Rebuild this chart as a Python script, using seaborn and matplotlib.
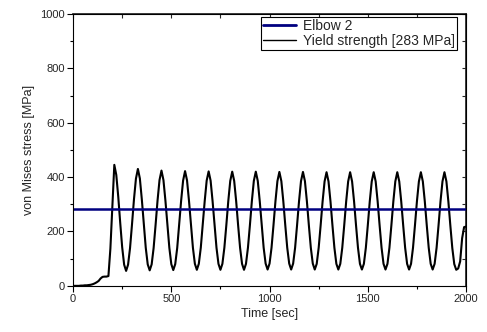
import numpy as np
import pandas as pd
import seaborn as sns
import matplotlib
matplotlib.use("Agg")
import matplotlib.pyplot as plt
from matplotlib.ticker import MultipleLocator

# Sampling times of the stress history [sec]
time_s = np.arange(0, 2001, 10)

# von Mises stress at each sampling time [MPa]
stress_mpa = [
    0, 0, 0, 0, 1, 1, 2, 2, 3, 4,
    6, 9, 13, 18, 27, 33, 34, 34, 36, 137,
    292, 445, 408, 328, 232, 142, 78, 55, 78, 139,
    226, 318, 394, 430, 395, 318, 227, 140, 79, 57,
    79, 139, 224, 314, 389, 424, 389, 314, 225, 140,
    80, 58, 80, 139, 224, 313, 387, 422, 388, 313,
    224, 140, 81, 59, 81, 140, 224, 312, 387, 421,
    387, 312, 224, 140, 81, 59, 81, 140, 223, 312,
    386, 420, 386, 312, 223, 140, 81, 59, 81, 140,
    223, 312, 386, 420, 386, 312, 224, 140, 82, 60,
    82, 140, 223, 311, 385, 419, 385, 311, 223, 140,
    82, 60, 82, 140, 223, 311, 385, 419, 385, 311,
    223, 140, 82, 60, 81, 140, 223, 311, 384, 418,
    384, 311, 223, 140, 81, 60, 81, 140, 223, 311,
    384, 418, 384, 311, 223, 140, 81, 60, 81, 140,
    223, 311, 384, 418, 384, 311, 223, 140, 81, 60,
    81, 140, 223, 311, 384, 418, 384, 311, 223, 140,
    81, 60, 81, 140, 223, 311, 384, 418, 384, 311,
    223, 140, 81, 60, 81, 140, 223, 311, 384, 418,
    384, 310, 222, 139, 80, 59, 64, 90, 175, 216,
    218,
]

yield_strength = 283  # MPa

series_labels = ["Elbow 2", "Yield strength [283 MPa]"]

df = pd.DataFrame({"Time": time_s, "Stress": stress_mpa})

sns.set_theme(style="ticks")
plt.rcParams["font.family"] = ["Liberation Sans", "DejaVu Sans"]

fig = plt.figure(figsize=(4.87, 3.32), dpi=100)
ax = fig.add_axes([0.150, 0.139, 0.807, 0.819])

sns.lineplot(data=df, x="Time", y="Stress", ax=ax, color="black",
             linewidth=1.5, estimator=None, sort=False)
ax.axhline(yield_strength, color="#000080", linewidth=1.8)

ax.set_xlim(0, 2000)
ax.set_ylim(0, 1000)
ax.xaxis.set_major_locator(MultipleLocator(500))
ax.xaxis.set_minor_locator(MultipleLocator(250))
ax.yaxis.set_major_locator(MultipleLocator(200))
ax.yaxis.set_minor_locator(MultipleLocator(100))

for side in ["top", "right", "left", "bottom"]:
    ax.spines[side].set_visible(True)
    ax.spines[side].set_color("black")
    ax.spines[side].set_linewidth(0.8)

ax.tick_params(axis="both", which="major", labelsize=8, length=4,
               width=0.8, color="black", direction="out", pad=2)
ax.tick_params(axis="both", which="minor", length=2, width=0.8,
               color="black", direction="out")
ax.tick_params(axis="x", which="both", top=False)
ax.tick_params(axis="y", which="both", right=False)

# Mirror ticks on top and right point inward
sec_x = ax.secondary_xaxis("top")
sec_x.xaxis.set_major_locator(MultipleLocator(500))
sec_x.xaxis.set_minor_locator(MultipleLocator(250))
sec_x.tick_params(which="both", direction="in", length=3, width=0.8,
                  labeltop=False)
sec_y = ax.secondary_yaxis("right")
sec_y.yaxis.set_major_locator(MultipleLocator(200))
sec_y.yaxis.set_minor_locator(MultipleLocator(100))
sec_y.tick_params(which="both", direction="in", length=3, width=0.8,
                  labelright=False)

ax.set_xlabel("Time [sec]", fontsize=9, labelpad=3)
ax.set_ylabel("von Mises stress [MPa]", fontsize=9, labelpad=4)

lines = ax.get_lines()
curve, hline = lines[0], lines[1]
leg = ax.legend([hline, curve], series_labels, loc="upper right",
                bbox_to_anchor=(457 / 487, 1 - 17 / 332),
                bbox_transform=fig.transFigure, borderaxespad=0,
                fontsize=10, frameon=True, fancybox=False, shadow=False,
                borderpad=0.15, labelspacing=0.05, handlelength=2.4,
                handletextpad=0.5)
leg.get_frame().set_edgecolor("black")
leg.get_frame().set_linewidth(0.8)
leg.get_frame().set_alpha(1)
leg_lines = leg.get_lines()
leg_lines[0].set_linewidth(2.0)
leg_lines[1].set_linewidth(1.0)

fig.savefig("out.png", dpi=100)
